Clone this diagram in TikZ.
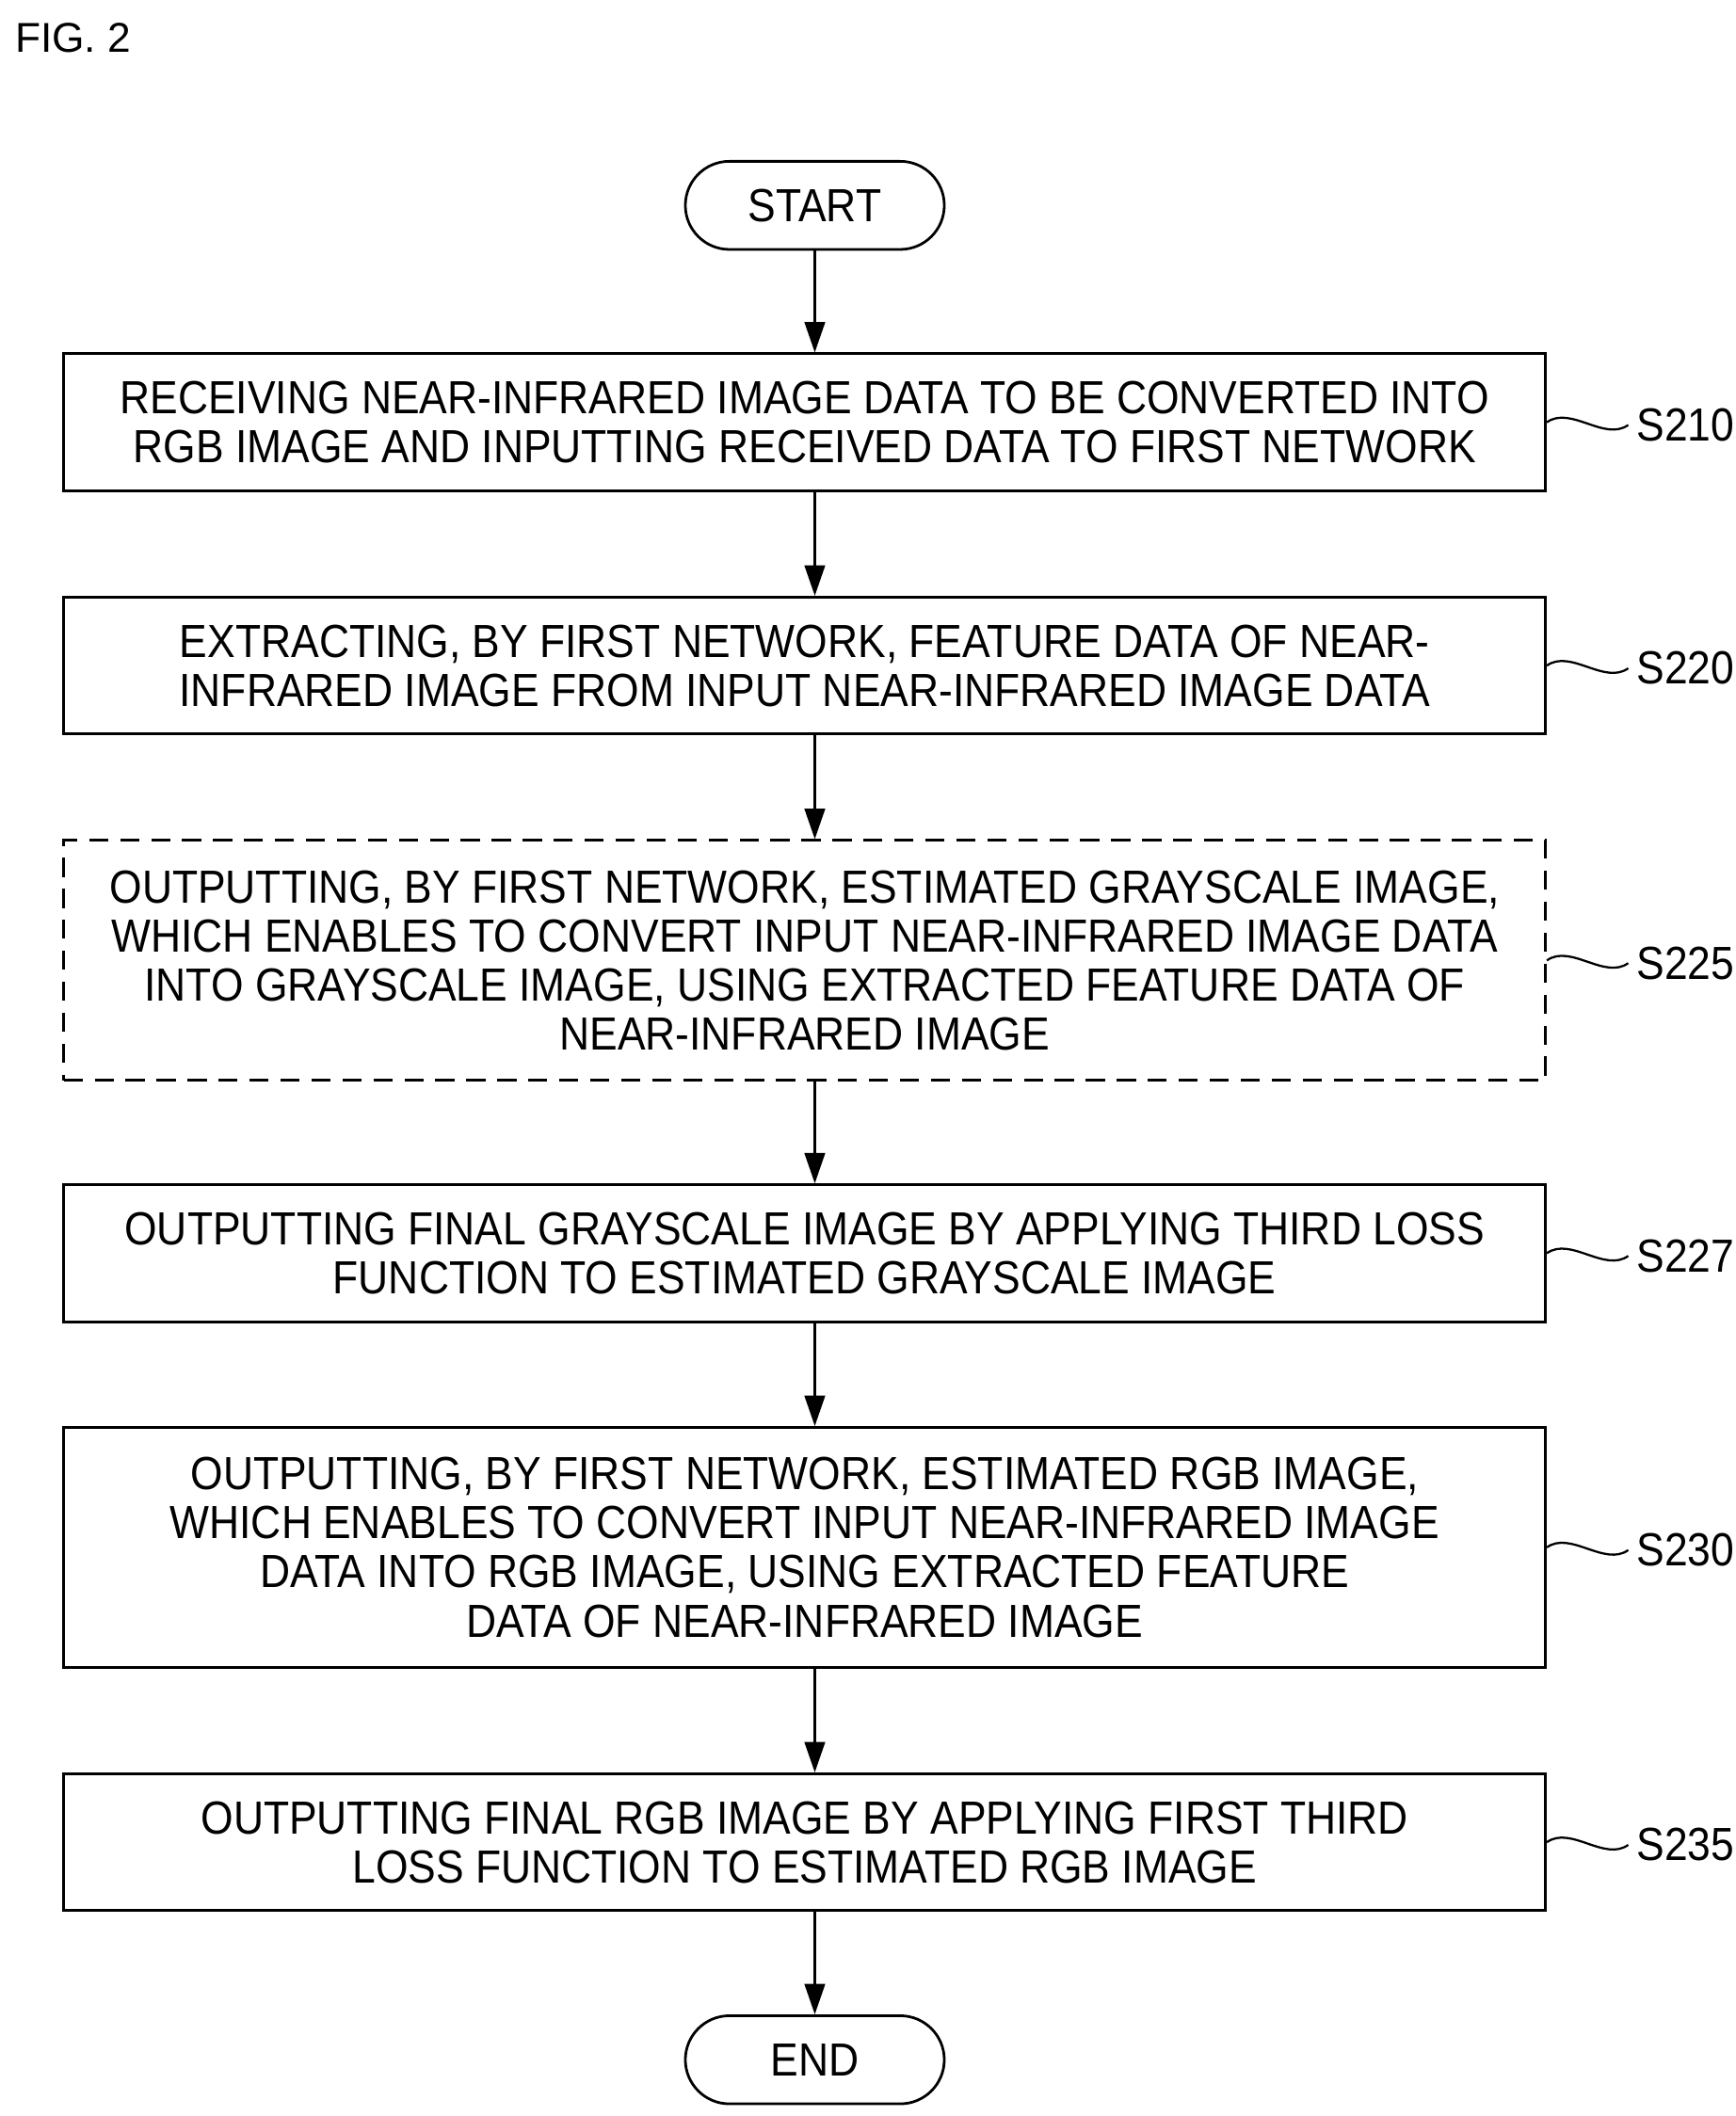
\documentclass[tikz,border=0pt]{standalone}
\usepackage{fontspec}
\setmainfont{Liberation Sans}[FakeStretch=0.9]
\newfontfamily\figfont{Liberation Sans}
\usetikzlibrary{positioning,arrows.meta}

\tikzset{
  stepbox/.style={draw, line width=1.1pt, minimum width=21.86cm, minimum height=2.02cm, align=center,
    font=\fontsize{19.5}{20.6}\selectfont},
  term/.style={draw, line width=1.1pt, rounded corners=0.65cm, minimum width=3.82cm, minimum height=1.3cm,
    font=\fontsize{19.5}{20.6}\selectfont},
  flow/.style={-{Triangle[length=0.45cm,width=0.3cm]}, line width=1.1pt},
  tag/.style={anchor=west, font=\fontsize{19.5}{20.6}\selectfont},
  wave/.style={line width=0.9pt}
}

\begin{document}
\begin{tikzpicture}
\useasboundingbox (0,0) rectangle (25.6,-31.22);

\node[anchor=west, font=\figfont\fontsize{17.5}{18}\selectfont] (fig) at (0.1,-0.56) {FIG. 2};

% start / end
\node[term] (start) at (12.02,-3.03) {START};
\node[term] (end) at (12.02,-30.39) {END};

% steps
\node[stepbox] (s210) at (11.87,-6.23) {RECEIVING NEAR-INFRARED IMAGE DATA TO BE CONVERTED INTO\\ RGB IMAGE AND INPUTTING RECEIVED DATA TO FIRST NETWORK};
\node[stepbox] (s220) at (11.87,-9.82) {EXTRACTING, BY FIRST NETWORK, FEATURE DATA OF NEAR-\\ INFRARED IMAGE FROM INPUT NEAR-INFRARED IMAGE DATA};
\node[stepbox, dashed, dash pattern=on 8pt off 5pt, minimum height=3.54cm] (s225) at (11.87,-14.17)
  {OUTPUTTING, BY FIRST NETWORK, ESTIMATED GRAYSCALE IMAGE,\\ WHICH ENABLES TO CONVERT INPUT NEAR-INFRARED IMAGE DATA\\ INTO GRAYSCALE IMAGE, USING EXTRACTED FEATURE DATA OF\\ NEAR-INFRARED IMAGE};
\node[stepbox] (s227) at (11.87,-18.49) {OUTPUTTING FINAL GRAYSCALE IMAGE BY APPLYING THIRD LOSS\\ FUNCTION TO ESTIMATED GRAYSCALE IMAGE};
\node[stepbox, minimum height=3.54cm] (s230) at (11.87,-22.83)
  {OUTPUTTING, BY FIRST NETWORK, ESTIMATED RGB IMAGE,\\ WHICH ENABLES TO CONVERT INPUT NEAR-INFRARED IMAGE\\ DATA INTO RGB IMAGE, USING EXTRACTED FEATURE\\ DATA OF NEAR-INFRARED IMAGE};
\node[stepbox] (s235) at (11.87,-27.18) {OUTPUTTING FINAL RGB IMAGE BY APPLYING FIRST THIRD\\ LOSS FUNCTION TO ESTIMATED RGB IMAGE};

% arrows
\draw[flow] (start.south) -- (start.south |- s210.north);
\draw[flow] (start.south |- s210.south) -- (start.south |- s220.north);
\draw[flow] (start.south |- s220.south) -- (start.south |- s225.north);
\draw[flow] (start.south |- s225.south) -- (start.south |- s227.north);
\draw[flow] (start.south |- s227.south) -- (start.south |- s230.north);
\draw[flow] (start.south |- s230.south) -- (start.south |- s235.north);
\draw[flow] (start.south |- s235.south) -- (end.north);

% step labels
\foreach \s in {210,220,225,227,230,235} {
  \node[tag] (t\s) at ([xshift=1.2cm,yshift=-0.04cm]s\s.east) {S\s};
  \draw[wave] (s\s.east) .. controls +(0.35,0.25) and +(-0.35,-0.25) .. (t\s.west);
}
\end{tikzpicture}
\end{document}
